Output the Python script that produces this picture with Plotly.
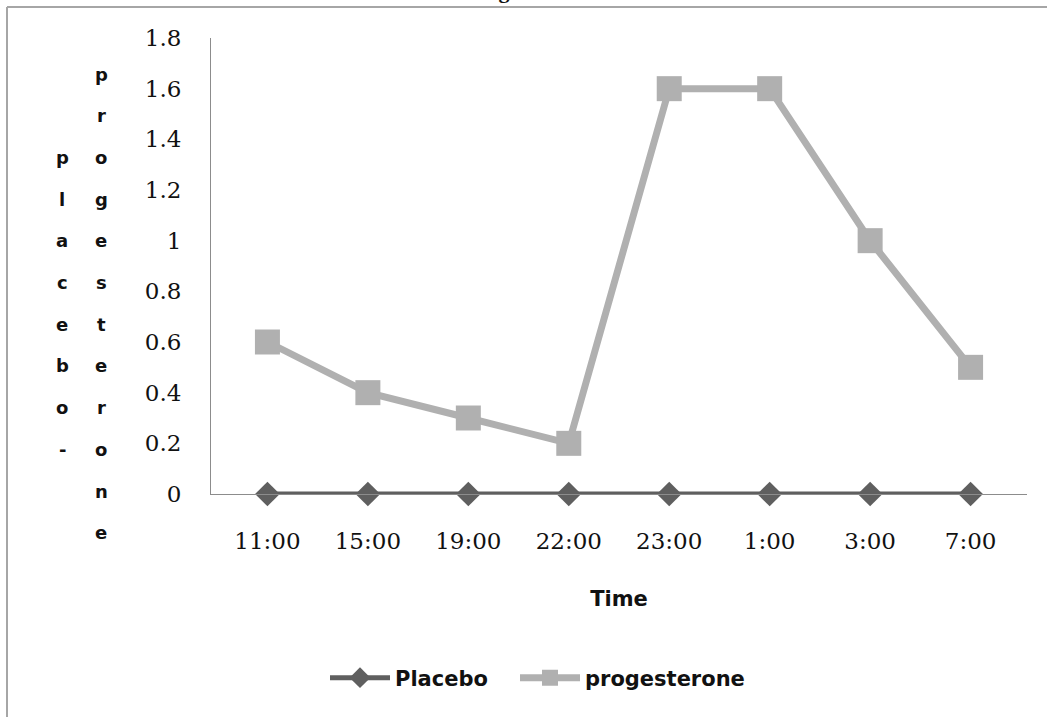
import plotly.graph_objects as go

# Sampling times and measured values
times = ["11:00", "15:00", "19:00", "22:00", "23:00", "1:00", "3:00", "7:00"]
placebo = [0, 0, 0, 0, 0, 0, 0, 0]
progesterone = [0.6, 0.4, 0.3, 0.2, 1.6, 1.6, 1.0, 0.5]
y_ticks = [0, 0.2, 0.4, 0.6, 0.8, 1, 1.2, 1.4, 1.6, 1.8]
y_tick_text = ["0", "0.2", "0.4", "0.6", "0.8", "1", "1.2", "1.4", "1.6", "1.8"]

W, H = 1047, 717
ML, MR, MT, MB = 211, 20, 38, 223
PW, PH = W - ML - MR, H - MT - MB


def px_x(px):
    return (px - ML) / PW


def px_y(py):
    return (H - MB - py) / PH


PLACEBO_C = "#5f5f5f"
PROG_C = "#b0b0b0"
SANS = "DejaVu Sans"
SERIF = "DejaVu Serif"

fig = go.Figure()
fig.add_trace(go.Scatter(
    x=times, y=placebo, name="Placebo", mode="lines+markers",
    line=dict(color=PLACEBO_C, width=5),
    marker=dict(symbol="diamond", size=19, color=PLACEBO_C),
    cliponaxis=False, legend="legend",
))
fig.add_trace(go.Scatter(
    x=times, y=progesterone, name="progesterone", mode="lines+markers",
    line=dict(color=PROG_C, width=7),
    marker=dict(symbol="square", size=25, color=PROG_C),
    cliponaxis=False, legend="legend2",
))

# Vertical, letter-by-letter axis title in two columns
annotations = []
col2 = "progesterone"
col1 = "placebo-"
line_h = 41.7
top_y = 74
for i, ch in enumerate(col2):
    annotations.append(dict(
        text=f"<b>{ch}</b>", x=px_x(101), y=px_y(top_y + i * line_h),
        xref="paper", yref="paper", showarrow=False,
        xanchor="center", yanchor="middle",
        font=dict(family=SANS, size=18, color="#111"),
    ))
offset = (len(col2) - len(col1)) // 2
for i, ch in enumerate(col1):
    annotations.append(dict(
        text=f"<b>{ch}</b>", x=px_x(62), y=px_y(top_y + (i + offset) * line_h),
        xref="paper", yref="paper", showarrow=False,
        xanchor="center", yanchor="middle",
        font=dict(family=SANS, size=18, color="#111"),
    ))

# Page heading, running off the top edge
annotations.append(dict(
    text="<b>Figure 1</b>", x=px_x(518), y=px_y(4),
    xref="paper", yref="paper", showarrow=False,
    xanchor="center", yanchor="bottom", borderpad=0,
    font=dict(family="Liberation Serif", size=22, color="#111"),
))

# Outer frame (top and left edges)
shapes = [
    dict(type="line", xref="paper", yref="paper",
         x0=px_x(7), x1=px_x(W + 5), y0=px_y(7), y1=px_y(7),
         line=dict(color="#a6a6a6", width=2)),
    dict(type="line", xref="paper", yref="paper",
         x0=px_x(7), x1=px_x(7), y0=px_y(7), y1=px_y(H + 5),
         line=dict(color="#a6a6a6", width=2)),
]

legend_style = dict(
    orientation="h", xanchor="left", y=px_y(678), yanchor="middle",
    font=dict(family=SANS, size=21, color="#111", weight="bold"),
    itemwidth=60, bgcolor="rgba(0,0,0,0)",
)

fig.update_layout(
    width=W, height=H,
    margin=dict(l=ML, r=MR, t=MT, b=MB),
    paper_bgcolor="white", plot_bgcolor="white",
    showlegend=True,
    legend=dict(x=px_x(325), **legend_style),
    legend2=dict(x=px_x(515), **legend_style),
    xaxis=dict(
        type="category", showline=True, linecolor="#8c8c8c", linewidth=1,
        showgrid=False, zeroline=False, ticks="",
        tickfont=dict(family=SERIF, size=23, color="#111"),
        ticklabelstandoff=26,
        title=dict(text="<b>Time</b>", font=dict(family=SANS, size=21, color="#111"),
                   standoff=38),
    ),
    yaxis=dict(
        range=[0, 1.8], tickvals=y_ticks, ticktext=y_tick_text,
        showline=True, linecolor="#8c8c8c", linewidth=1,
        showgrid=False, zeroline=False, ticks="",
        tickfont=dict(family=SERIF, size=23, color="#111"),
        ticklabelstandoff=24,
    ),
    annotations=annotations,
    shapes=shapes,
)

fig.write_html("out.html")
